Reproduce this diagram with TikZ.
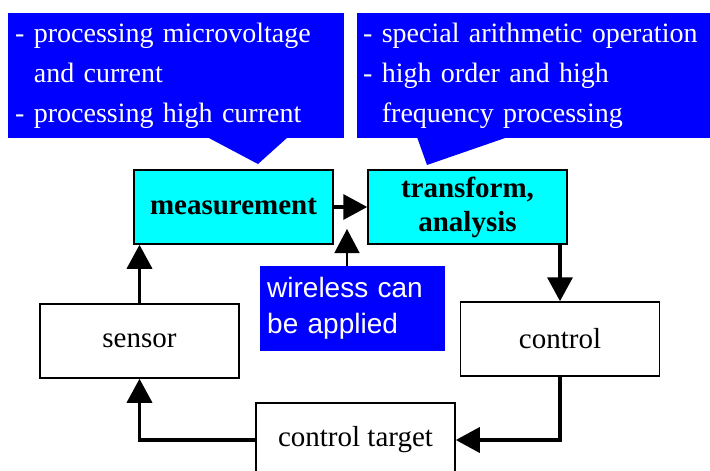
\documentclass[tikz,border=0pt]{standalone}
\usepackage{fontspec}
\setmainfont{Liberation Serif}
\newfontfamily\wirelessfont{Liberation Sans}
\usetikzlibrary{arrows.meta}

\definecolor{boxcyan}{RGB}{0,255,255}
\definecolor{noteblue}{RGB}{0,0,255}

\begin{document}
\begin{tikzpicture}[x=1pt, y=-1pt,
		every node/.append style={font=\fontsize{29}{40}\selectfont},
		box/.style={draw, line width=1.5pt, minimum width=199pt, minimum height=74pt, inner sep=0pt},
		hot/.style={box, fill=boxcyan},
		note/.style={fill=noteblue, text=white, align=left, anchor=north west, inner ysep=0pt,
			font=\fontsize{28}{40}\selectfont},
		flow/.style={line width=3.5pt, -{Triangle[length=24pt,width=25pt]}},
		thinflow/.style={line width=1.3pt, -{Triangle[length=24pt,width=25pt]}}]

		%%% HELP LINES - uncomment to design/extend
		% \draw[step=10,gray,very thin] (0,0) grid (710,471);

		\useasboundingbox (0,0) rectangle (710,471);

		% MEASUREMENT
		\node[hot, font=\fontsize{29}{40}\selectfont\bfseries] (meas) at (233.5,207) {measurement};

		% TRANSFORM, ANALYSIS
		\node[hot, align=center, font=\fontsize{29}{36}\selectfont\bfseries] (trans) at (467.5,207) {
			\raisebox{-4pt}{transform,} \\
			\raisebox{-2pt}{analysis}
		};

		% SENSOR
		\node[box] (sensor) at (139.5,341) {sensor};

		% CONTROL
		\node[box] (control) at (560,339) {control};

		% CONTROL TARGET
		\node[box] (target) at (355.5,440) {control target};

		% WIRELESS
		\node[note, minimum height=85pt, text width=171pt, inner xsep=7pt,
			font=\wirelessfont\fontsize{28}{36}\selectfont] (wireless) at (260,266) {
			wireless can \\
			be applied
		};

		% NOTE - MEASUREMENT
		\node[note, minimum height=125pt, text width=322pt, inner xsep=7pt] (note1) at (8,13) {
			- processing microvoltage \\
			\hphantom{-\ }and current \\
			- processing high current
		};
		\fill[noteblue] (207,137) -- (258,164) -- (288,137) -- cycle;

		% NOTE - TRANSFORM
		\node[note, minimum height=125pt, text width=341pt, inner xsep=6pt] (note2) at (357,13) {
			- special arithmetic operation \\
			- high order and high \\
			\hphantom{-\ }frequency processing
		};
		\fill[noteblue] (417,137) -- (427,165) -- (508,137) -- cycle;

		% LOOP
		\draw[flow] (meas) -- (trans);
		\draw[flow] (control.north |- trans.south) -- (control.north);
		\draw[flow] (control.south) |- (target.east);
		\draw[flow] (target.west) -| (sensor.south);
		\draw[flow] (sensor.north) -- (sensor.north |- meas.south);

		% WIRELESS ARROW
		\coordinate (gap) at (347,229);
		\draw[thinflow] (gap |- wireless.north) -- (gap);
	\end{tikzpicture}
\end{document}
